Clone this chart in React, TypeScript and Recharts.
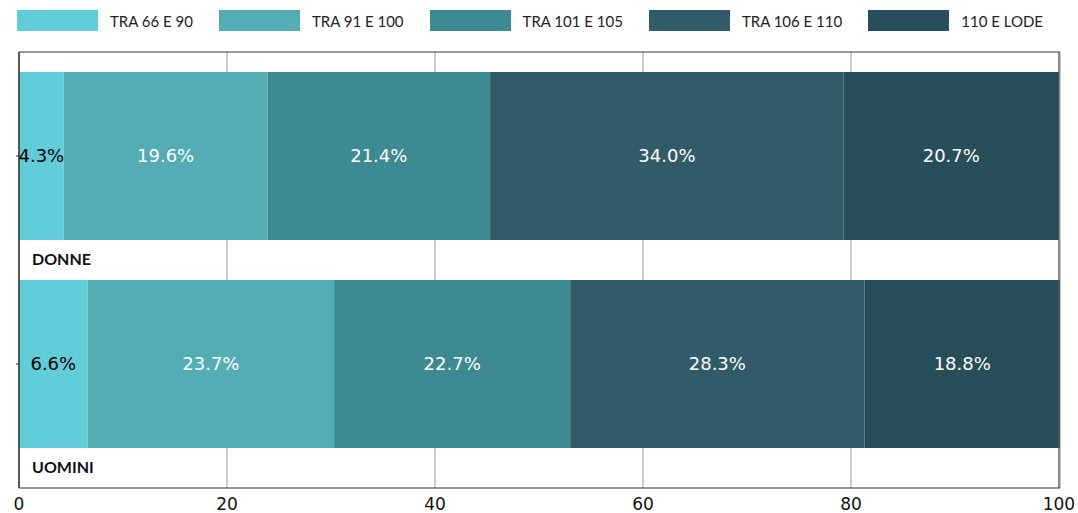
import React from "react";
import { BarChart, Bar, XAxis, YAxis, CartesianGrid, LabelList, ReferenceLine } from "recharts";

const categories = ["DONNE", "UOMINI"];
const seriesNames = ["TRA 66 E 90", "TRA 91 E 100", "TRA 101 E 105", "TRA 106 E 110", "110 E LODE"];
const tra66e90 = [4.3, 6.6];
const tra91e100 = [19.6, 23.7];
const tra101e105 = [21.4, 22.7];
const tra106e110 = [34.0, 28.3];
const lode = [20.7, 18.8];
const xTicks = [0, 20, 40, 60, 80, 100];
const colors = ["#61CDD9", "#54ADB5", "#3D8A93", "#325B69", "#264F59"];
const labelColors = ["#000000", "#ffffff", "#ffffff", "#ffffff", "#ffffff"];

const seriesValues = [tra66e90, tra91e100, tra101e105, tra106e110, lode];
const keys = ["s0", "s1", "s2", "s3", "s4"];
const data = categories.map((c, i) => {
  const row: any = { name: c };
  keys.forEach((k, j) => (row[k] = seriesValues[j][i]));
  return row;
});

const CatTick = (props: any) => {
  const { x, y, payload } = props;
  return (
    <g>
      <line x1={x + 5} x2={x + 8} y1={y} y2={y} stroke="#333" />
      <text x={x + 21} y={y + 109} fontFamily="Lato" fontWeight={700} fontSize={16} fill="#111" textAnchor="start">
        {payload.value}
      </text>
    </g>
  );
};

const Legend = () => (
  <div
    style={{
      position: "absolute",
      left: 17,
      top: 10,
      width: 1026,
      display: "flex",
      justifyContent: "space-between",
      alignItems: "center",
      fontFamily: "Lato",
      fontSize: 15,
      color: "#222",
      zIndex: 2,
    }}
  >
    {seriesNames.map((n, i) => (
      <div key={n} style={{ display: "flex", alignItems: "center" }}>
        <div style={{ width: 81, height: 21, background: colors[i], marginRight: 12 }} />
        <span>{n}</span>
      </div>
    ))}
  </div>
);

export default function App() {
  return (
    <div style={{ position: "absolute", left: 0, top: 0, width: 1078, height: 513, background: "#fff" }}>
      <Legend />
      <BarChart
        width={1078}
        height={513}
        data={data}
        layout="vertical"
        margin={{ top: 52, right: 18, left: 18, bottom: 0 }}
        barCategoryGap={0}
      >
        <CartesianGrid horizontal={false} stroke="#9a9a9a" />
        <CartesianGrid
          vertical={false}
          stroke="#333"
          horizontalCoordinatesGenerator={(p: any) => [p.offset.top]}
        />
        <XAxis
          type="number"
          domain={[0, 100]}
          ticks={xTicks}
          tickLine={false}
          tickMargin={4}
          axisLine={{ stroke: "#333" }}
          height={25}
          tick={{ fontSize: 17, fill: "#111", fontFamily: "DejaVu Sans" }}
          interval={0}
        />
        <YAxis
          type="category"
          dataKey="name"
          width={1}
          padding={{ top: 0, bottom: 20 }}
          axisLine={{ stroke: "#333" }}
          tickLine={false}
          tick={<CatTick />}
          interval={0}
        />
        {keys.map((k, i) => (
          <Bar key={k} dataKey={k} stackId="a" fill={colors[i]} barSize={168} isAnimationActive={false}>
            <LabelList
              dataKey={k}
              position="center"
              formatter={(v: any) => `${Number(v).toFixed(1)}%`}
              fill={labelColors[i]}
              fontSize={18}
              fontFamily="DejaVu Sans"
            />
          </Bar>
        ))}
        <ReferenceLine x={0} stroke="#333" />
        <ReferenceLine x={100} stroke="#555" />
      </BarChart>
    </div>
  );
}
